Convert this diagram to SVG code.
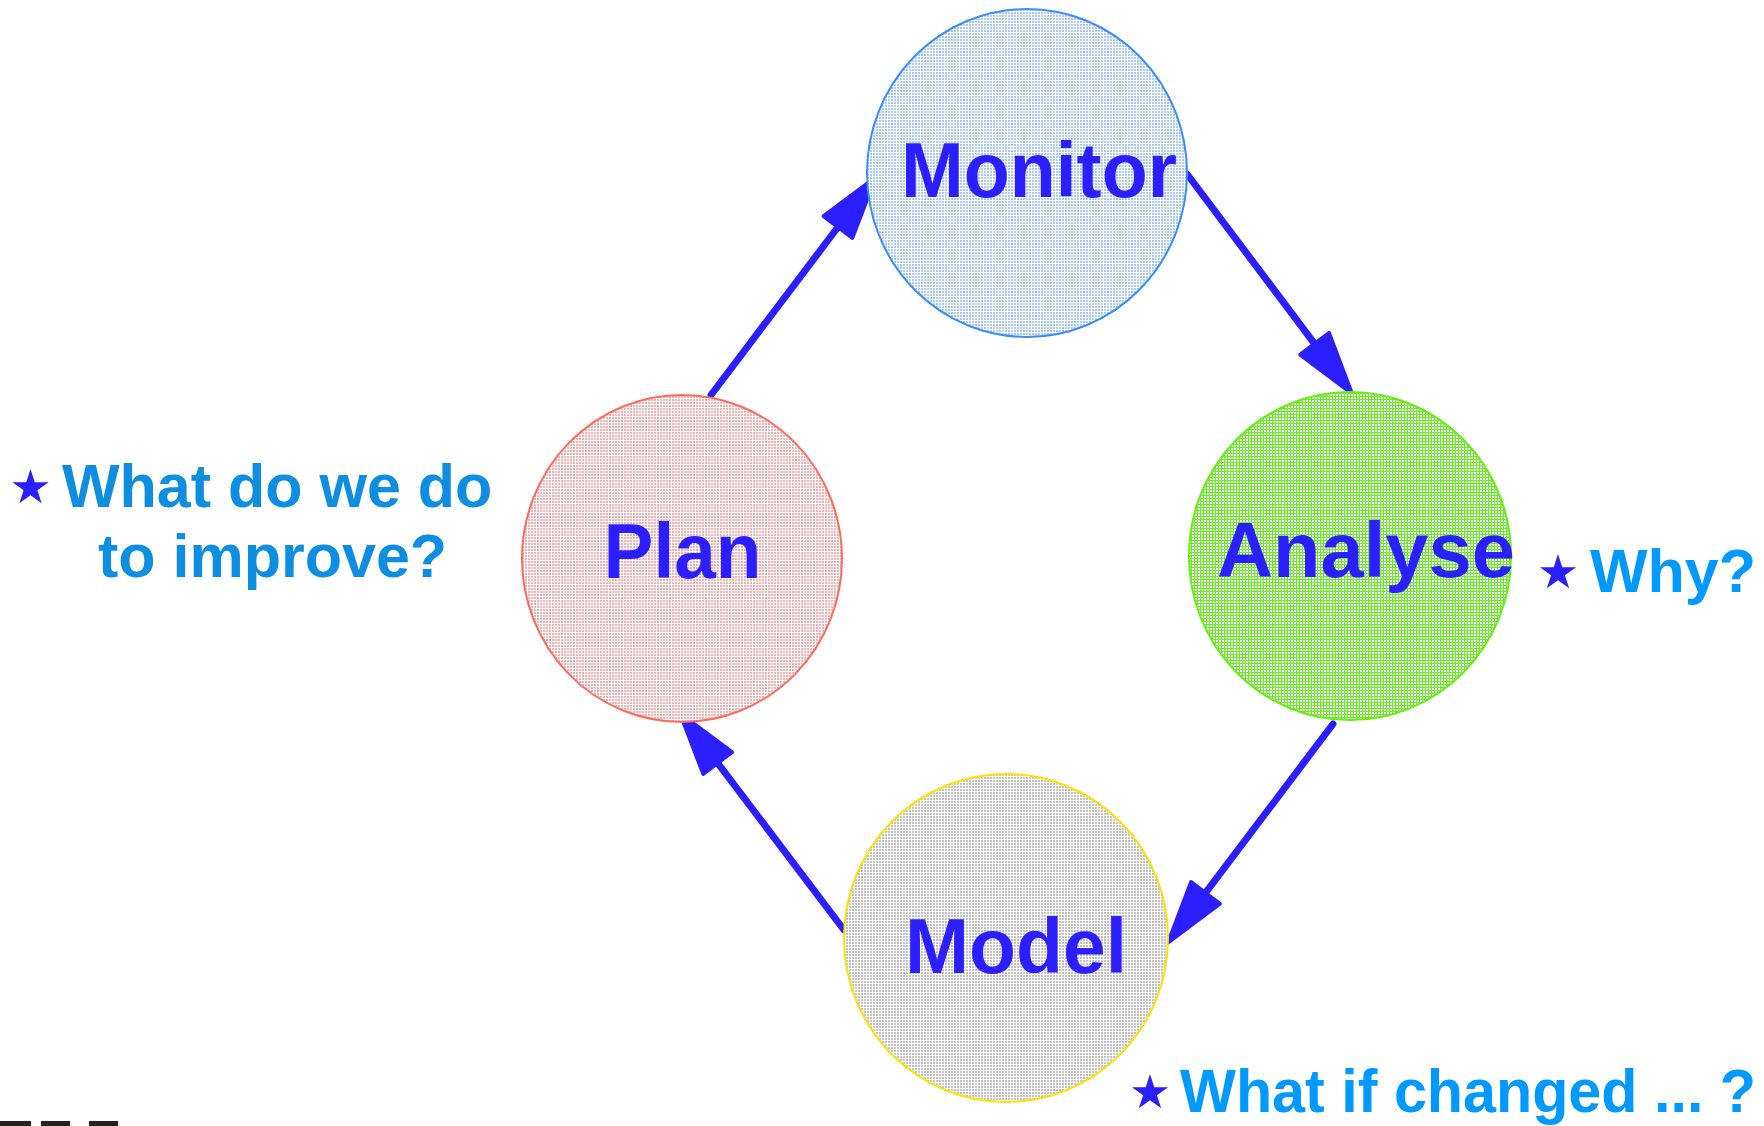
<svg xmlns="http://www.w3.org/2000/svg" width="1764" height="1126" viewBox="0 0 1764 1126">
<style>
.node-label{font-family:"Liberation Sans",Arial,sans-serif;font-weight:bold;font-size:78px;fill:#2B1EFF;text-anchor:middle}
.q{font-family:"Liberation Sans",Arial,sans-serif;font-weight:bold;font-size:61px}
.q1{fill:#0D8EE0}
.q2{fill:#0099FF}
.star{fill:#2B1EFF}
.conn{fill:none;stroke:#2B1EFF;stroke-width:7;stroke-linecap:round;marker-end:url(#ah)}
</style>
<defs>
<pattern id="pMon" width="3" height="3" patternUnits="userSpaceOnUse"><rect width="3" height="3" fill="#fff"/><rect width="2" height="2" fill="#A9CBF7"/></pattern>
<pattern id="pPlan" width="3" height="3" patternUnits="userSpaceOnUse"><rect width="3" height="3" fill="#fff"/><rect width="2" height="2" fill="#F7B0B0"/></pattern>
<pattern id="pMod" width="3" height="3" patternUnits="userSpaceOnUse"><rect width="3" height="3" fill="#fff"/><rect width="2" height="2" fill="#C2C2C2"/></pattern>
<pattern id="pAna" width="3" height="3" patternUnits="userSpaceOnUse"><rect width="3" height="3" fill="#66EE22"/><rect x="1" y="1" width="2" height="2" fill="#fff"/></pattern>
<marker id="ah" markerUnits="userSpaceOnUse" viewBox="-5 -25 75 50" markerWidth="75" markerHeight="50" refX="0" refY="0" orient="auto" overflow="visible">
<path d="M0,-18 L62,0 L0,18 Z" fill="#2B1EFF" stroke="#2B1EFF" stroke-width="4" stroke-linejoin="round"/>
</marker>
<path id="starShape" d="M0,-19 L4.27,-5.87 L18.07,-5.87 L6.9,2.24 L11.17,15.37 L0,7.26 L-11.17,15.37 L-6.9,2.24 L-18.07,-5.87 L-4.27,-5.87 Z"/>
</defs>
<rect width="1764" height="1126" fill="#fff"/>

<g id="connectors">
<path class="conn" d="M711,395 L838,227"/>
<path class="conn" d="M1187,174 L1314.6,343.8"/>
<path class="conn" d="M1333,724 L1205.5,892.9"/>
<path class="conn" d="M844,930 L717.6,763"/>
</g>

<g id="monitor">
<ellipse cx="1027" cy="173" rx="160" ry="164" fill="url(#pMon)" stroke="#3A8CFF" stroke-width="2"/>
<text class="node-label" x="1039" y="197" textLength="276" lengthAdjust="spacingAndGlyphs">Monitor</text>
</g>
<g id="plan">
<ellipse cx="682" cy="558.5" rx="160" ry="163.5" fill="url(#pPlan)" stroke="#FF6A5E" stroke-width="2"/>
<text class="node-label" x="682.5" y="578" textLength="158" lengthAdjust="spacingAndGlyphs">Plan</text>
</g>
<g id="analyse">
<ellipse cx="1350" cy="556" rx="161" ry="164" fill="url(#pAna)" stroke="#66EE11" stroke-width="2"/>
<text class="node-label" x="1366" y="577" textLength="298" lengthAdjust="spacingAndGlyphs">Analyse</text>
</g>
<g id="model">
<ellipse cx="1006" cy="938" rx="162" ry="164" fill="url(#pMod)" stroke="#FFE000" stroke-width="2"/>
<text class="node-label" x="1016" y="973" textLength="222" lengthAdjust="spacingAndGlyphs">Model</text>
</g>

<g id="note-plan">
<use href="#starShape" class="star" x="30.5" y="488"/>
<text class="q q1" x="62" y="507">What do we do</text>
<text class="q q1" x="98" y="577">to improve?</text>
</g>
<g id="note-analyse">
<use href="#starShape" class="star" x="1558" y="573"/>
<text class="q q2" x="1590" y="592">Why?</text>
</g>
<g id="note-model">
<use href="#starShape" class="star" x="1150" y="1093"/>
<text class="q q2" x="1180" y="1112" font-size="60" textLength="576" lengthAdjust="spacingAndGlyphs">What if changed ... ?</text>
</g>

<g id="bottom-marks" fill="#222">
<rect x="0" y="1121" width="31" height="5"/>
<rect x="41" y="1121" width="29" height="5"/>
<rect x="89" y="1121" width="29" height="5"/>
</g>
</svg>
